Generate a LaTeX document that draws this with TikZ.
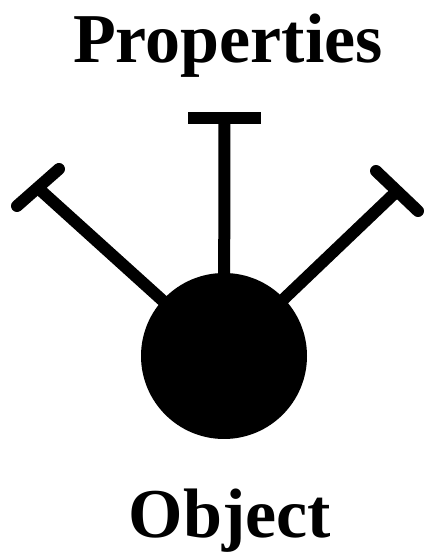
\documentclass[tikz,border=0pt]{standalone}
\usepackage{fontspec}
\setmainfont{Liberation Serif}
\usetikzlibrary{positioning}
\tikzset{
	objectnode/.style={
			circle,
			fill=black,
			draw=none,
			minimum size=166pt,
			inner sep=0pt
		},
	stemline/.style={
			line width=12pt
		},
	capbar/.style={
			line width=12pt,
			line cap=round
		},
	flatbar/.style={
			line width=12pt
		}
}
\tikzset{
	bigtext/.style={font=\fontsize{70}{84}\selectfont\bfseries, anchor=base, inner sep=0pt}
}

\begin{document}
\begin{tikzpicture}[x=1pt, y=1pt]
\useasboundingbox (0,0) rectangle (426,553);

\node[bigtext] (props) at (228,490) {Properties};
\node[bigtext] (objtext) at (230,16) {Object};

\coordinate (oc) at (224,197);
\coordinate (tc) at (224.5,435);
\coordinate (lc) at (38,365);
\coordinate (rc) at (397,362);

\draw[stemline] (oc) -- (tc);
\draw[stemline] (oc) -- (lc);
\draw[stemline] (oc) -- (rc);

\draw[flatbar] (188,435) -- (261,435);
\draw[capbar] (17,347) -- (59,384);
\draw[capbar] (376,382) -- (418,342);

\node[objectnode] (obj) at (oc) {};
\end{tikzpicture}
\end{document}
